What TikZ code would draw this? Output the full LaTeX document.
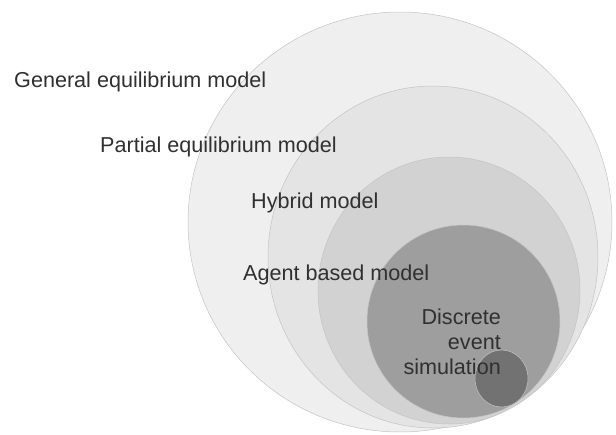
\documentclass[tikz,border=0pt]{standalone}
\usepackage{fontspec}
\setmainfont{Liberation Sans}
\usepackage{tikz}
\definecolor{ringA}{HTML}{EFEFEF}
\definecolor{ringB}{HTML}{E4E4E4}
\definecolor{ringC}{HTML}{D2D2D2}
\definecolor{ringD}{HTML}{9E9E9E}
\definecolor{ringE}{HTML}{727272}
\definecolor{ringline}{HTML}{C4C4C4}
\definecolor{labeltext}{HTML}{303030}
\tikzset{
   ring/.style={draw=ringline, line width=0.5pt, fill=#1},
   modellabel/.style={inner sep=0pt, text=labeltext,
      font=\fontsize{21.6}{25}\selectfont},
   }
\begin{document}
\begin{tikzpicture}[x=1pt,y=-1pt]
            \useasboundingbox (0,0) rectangle (616,434);
            \draw[ring=ringA](400,222) ellipse (212 and 210);
            \draw[ring=ringB](433,257) ellipse (165 and 171);
            \draw[ring=ringC](449,290.5) ellipse (131 and 133.5);
            \draw[ring=ringD](463.5,321.5) ellipse (96.5 and 96.5);
            \draw[ring=ringE](501.5,378.5) ellipse (26.5 and 28.5);
            \node[modellabel, anchor=base west] (general) at (14,87) {General equilibrium model};
            \node[modellabel, anchor=base west] (partial) at (100,152) {Partial equilibrium model};
            \node[modellabel, anchor=base west] (hybrid) at (251,208) {Hybrid model};
            \node[modellabel, anchor=base west] (agent) at (243,280) {Agent based model};
            \node[modellabel, anchor=north east, align=right] (discrete) at (501,309) {Discrete\\event\\simulation};
        \end{tikzpicture}
\end{document}
